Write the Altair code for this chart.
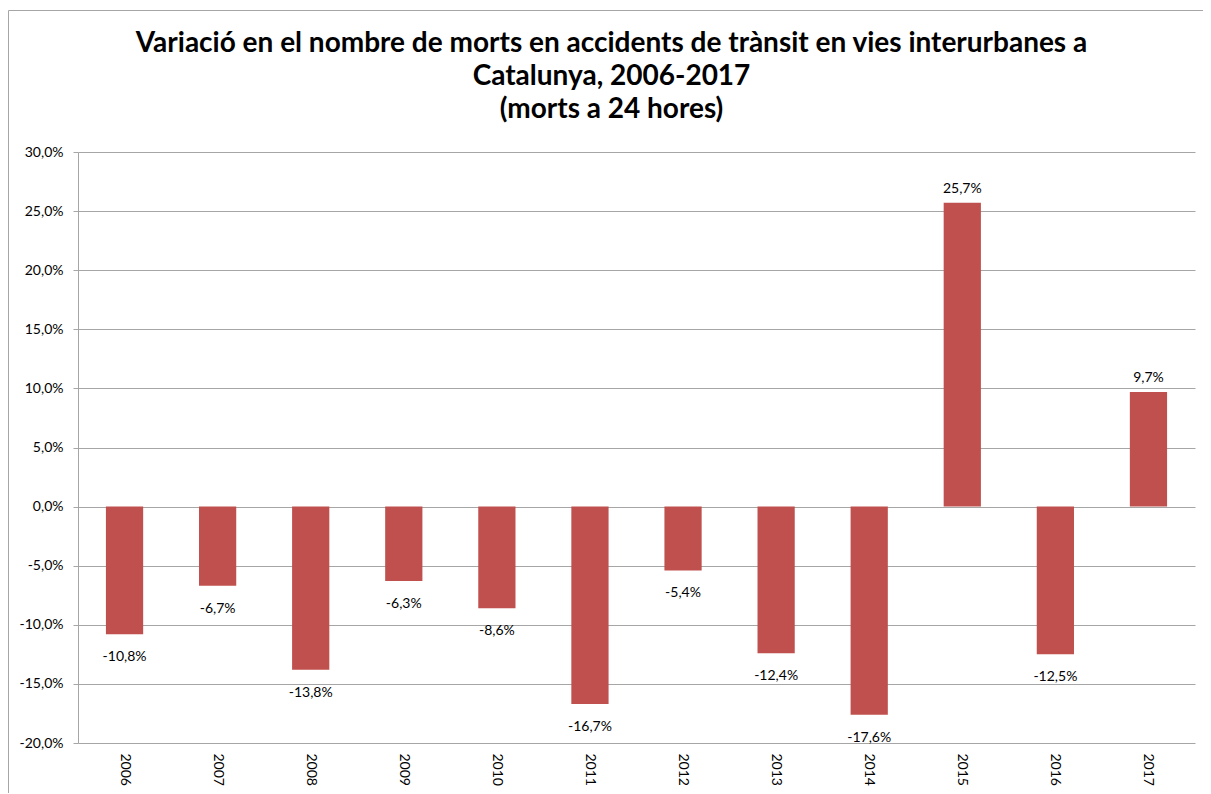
import altair as alt
import pandas as pd

years = ["2006", "2007", "2008", "2009", "2010", "2011", "2012", "2013", "2014", "2015", "2016", "2017"]
values = [-10.8, -6.7, -13.8, -6.3, -8.6, -16.7, -5.4, -12.4, -17.6, 25.7, -12.5, 9.7]
y_ticks = [-0.20, -0.15, -0.10, -0.05, 0.0, 0.05, 0.10, 0.15, 0.20, 0.25, 0.30]

df = pd.DataFrame({"year": years, "v": [v / 100 for v in values]})

FONT = "Lato"
W, H = 1117, 591
BAR = "#C0504D"
GRID = "#A6A6A6"

xscale = alt.Scale(paddingInner=0.6, paddingOuter=0.3)
yscale = alt.Scale(domain=[-0.2, 0.3], nice=False, zero=False)

base = alt.Chart(df)

bars = base.mark_bar(color=BAR).encode(
    x=alt.X("year:N", sort=years, scale=xscale, title=None,
            axis=alt.Axis(labelAngle=90, labelFont=FONT, labelFontSize=14, labelColor="#000000",
                          ticks=False, domain=False, labelPadding=10, grid=False)),
    y=alt.Y("v:Q", scale=yscale, title=None,
            axis=alt.Axis(values=y_ticks, format=".1%", labelFont=FONT, labelFontSize=14,
                          labelColor="#000000", tickSize=5, tickColor=GRID, domainColor=GRID,
                          grid=True, gridColor=GRID, labelPadding=10)),
)

pos = base.transform_filter("datum.v >= 0").mark_text(
    font=FONT, fontSize=14, color="#000000", baseline="alphabetic", dy=-10
).encode(
    x=alt.X("year:N", sort=years),
    y=alt.Y("v:Q"),
    text=alt.Text("v:Q", format=".1%"),
)

neg = base.transform_filter("datum.v < 0").mark_text(
    font=FONT, fontSize=14, color="#000000", baseline="alphabetic", dy=27
).encode(
    x=alt.X("year:N", sort=years),
    y=alt.Y("v:Q"),
    text=alt.Text("v:Q", format=".1%"),
)

border_l = alt.Chart(pd.DataFrame({"a": [0]})).mark_rule(color=GRID, strokeWidth=1).encode(
    x=alt.value(-69.5), y=alt.value(-141.5), y2=alt.value(H + 60)
)
border_t = alt.Chart(pd.DataFrame({"a": [0]})).mark_rule(color=GRID, strokeWidth=1).encode(
    x=alt.value(-69.5), x2=alt.value(W + 30), y=alt.value(-141.5)
)

chart = alt.layer(bars, pos, neg, border_l, border_t).properties(
    width=W, height=H,
    autosize=alt.AutoSizeParams(type="none"),
    padding={"left": 70, "top": 144, "right": 8, "bottom": 50},
    title=alt.Title(
        ["Variació en el nombre de morts en accidents de trànsit en vies interurbanes a",
         "Catalunya, 2006-2017", "(morts a 24 hores)"],
        font=FONT, fontSize=28, fontWeight="bold", color="#000000",
        anchor="middle", lineHeight=33, offset=-114, dx=-25,
    ),
).configure_view(stroke=None)

chart.save("out.html", embed_options={
    "renderer": "svg", "actions": False,
    "formatLocale": {"decimal": ",", "thousands": ".", "grouping": [3],
                     "currency": ["", " €"], "minus": "-", "percent": "%"},
})
